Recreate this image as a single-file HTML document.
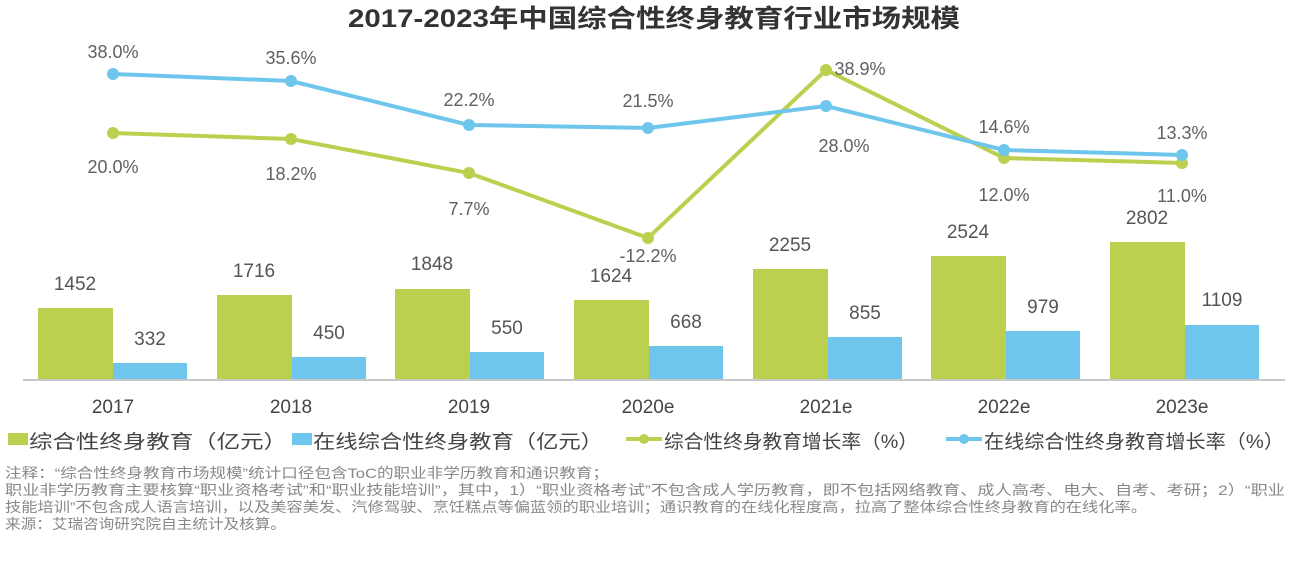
<!DOCTYPE html>
<html><head><meta charset="utf-8"><style>
body{margin:0;background:#fff;width:1308px;height:560px;overflow:hidden}
text{font-family:"Liberation Sans","Noto Sans CJK SC",sans-serif}
</style></head><body>
<svg width="1308" height="560" viewBox="0 0 1308 560">
<text x="348" y="27" textLength="612" lengthAdjust="spacingAndGlyphs" font-size="25" font-weight="bold" fill="#333">2017-2023年中国综合性终身教育行业市场规模</text>
<g fill="#bccf4f">
<rect x="38" y="308" width="75" height="71"/>
<rect x="217" y="295" width="75" height="84"/>
<rect x="395" y="289" width="75" height="90"/>
<rect x="574" y="300" width="75" height="79"/>
<rect x="753" y="269" width="75" height="110"/>
<rect x="931" y="256" width="75" height="123"/>
<rect x="1110" y="242" width="75" height="137"/>
</g>
<g fill="#6fc6ec">
<rect x="113" y="363" width="74" height="16"/>
<rect x="292" y="357" width="74" height="22"/>
<rect x="470" y="352" width="74" height="27"/>
<rect x="649" y="346" width="74" height="33"/>
<rect x="828" y="337" width="74" height="42"/>
<rect x="1006" y="331" width="74" height="48"/>
<rect x="1185" y="325" width="74" height="54"/>
</g>
<line x1="23" y1="380" x2="1285" y2="380" stroke="#c8c8c8" stroke-width="2"/>
<g font-size="19" fill="#555" text-anchor="middle">
<text x="75" y="290">1452</text><text x="150" y="345">332</text>
<text x="254" y="277">1716</text><text x="329" y="339">450</text>
<text x="432" y="270">1848</text><text x="507" y="334">550</text>
<text x="611" y="282">1624</text><text x="686" y="328">668</text>
<text x="790" y="251">2255</text><text x="865" y="319">855</text>
<text x="968" y="238">2524</text><text x="1043" y="313">979</text>
<text x="1147" y="224">2802</text><text x="1222" y="306">1109</text>
</g>
<g font-size="19" fill="#444" text-anchor="middle">
<text x="113" y="413">2017</text><text x="291" y="413">2018</text><text x="469" y="413">2019</text>
<text x="648" y="413">2020e</text><text x="826" y="413">2021e</text><text x="1004" y="413">2022e</text><text x="1182" y="413">2023e</text>
</g>
<polyline points="113,133 291,139 469,173 648,238 826,70 1004,158 1182,163" fill="none" stroke="#bccf4f" stroke-width="4"/>
<polyline points="113,74 291,81 469,125 648,128 826,106 1004,150 1182,155" fill="none" stroke="#6fc6ec" stroke-width="4"/>
<g fill="#bccf4f">
<circle cx="113" cy="133" r="6"/><circle cx="291" cy="139" r="6"/><circle cx="469" cy="173" r="6"/><circle cx="648" cy="238" r="6"/><circle cx="826" cy="70" r="6"/><circle cx="1004" cy="158" r="6"/><circle cx="1182" cy="163" r="6"/>
</g>
<g fill="#6fc6ec">
<circle cx="113" cy="74" r="6"/><circle cx="291" cy="81" r="6"/><circle cx="469" cy="125" r="6"/><circle cx="648" cy="128" r="6"/><circle cx="826" cy="106" r="6"/><circle cx="1004" cy="150" r="6"/><circle cx="1182" cy="155" r="6"/>
</g>
<g font-size="18" fill="#606060" text-anchor="middle">
<text x="113" y="58">38.0%</text><text x="291" y="64">35.6%</text><text x="469" y="106">22.2%</text><text x="648" y="107">21.5%</text>
<text x="860" y="75">38.9%</text><text x="844" y="152">28.0%</text><text x="1004" y="133">14.6%</text><text x="1182" y="139">13.3%</text>
<text x="113" y="173">20.0%</text><text x="291" y="180">18.2%</text><text x="469" y="215">7.7%</text><text x="648" y="262">-12.2%</text>
<text x="1004" y="201">12.0%</text><text x="1182" y="202">11.0%</text>
</g>
<g font-size="19" fill="#444">
<rect x="8" y="433" width="20" height="12" fill="#bccf4f"/><text x="29" y="448" textLength="258" lengthAdjust="spacingAndGlyphs">综合性终身教育（亿元）</text>
<rect x="292" y="433" width="20" height="12" fill="#6fc6ec"/><text x="313" y="448" textLength="290" lengthAdjust="spacingAndGlyphs">在线综合性终身教育（亿元）</text>
<line x1="626" y1="439" x2="662" y2="439" stroke="#bccf4f" stroke-width="4"/><circle cx="644" cy="439" r="5" fill="#bccf4f"/><text x="664" y="448" textLength="254" lengthAdjust="spacingAndGlyphs">综合性终身教育增长率（%）</text>
<line x1="946" y1="439" x2="982" y2="439" stroke="#6fc6ec" stroke-width="4"/><circle cx="964" cy="439" r="5" fill="#6fc6ec"/><text x="984" y="448" textLength="300" lengthAdjust="spacingAndGlyphs">在线综合性终身教育增长率（%）</text>
</g>
<g font-size="14" fill="#888">
<text x="5" y="478" textLength="604" lengthAdjust="spacingAndGlyphs">注释：“综合性终身教育市场规模”统计口径包含ToC的职业非学历教育和通识教育；</text>
<text x="5" y="495" textLength="1280" lengthAdjust="spacingAndGlyphs">职业非学历教育主要核算“职业资格考试”和“职业技能培训”，其中，1）“职业资格考试”不包含成人学历教育，即不包括网络教育、成人高考、电大、自考、考研；2）“职业</text>
<text x="5" y="512" textLength="1142" lengthAdjust="spacingAndGlyphs">技能培训”不包含成人语言培训，以及美容美发、汽修驾驶、烹饪糕点等偏蓝领的职业培训；通识教育的在线化程度高，拉高了整体综合性终身教育的在线化率。</text>
<text x="5" y="529" textLength="281" lengthAdjust="spacingAndGlyphs">来源：艾瑞咨询研究院自主统计及核算。</text>
</g>
</svg>
</body></html>
